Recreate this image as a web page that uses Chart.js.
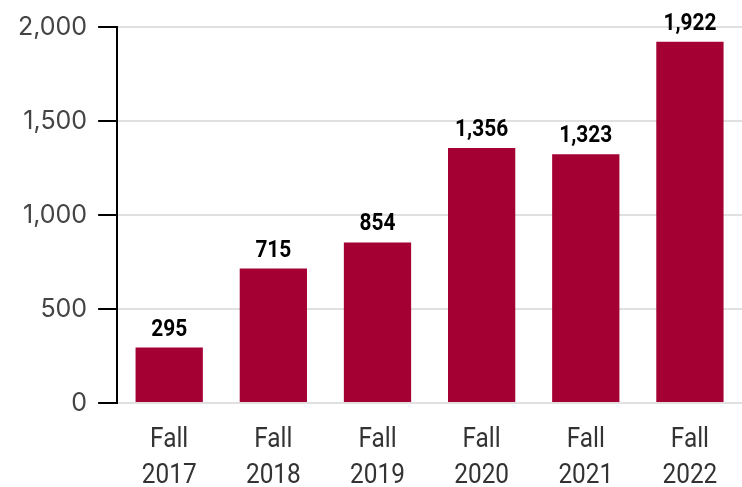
<!DOCTYPE html>
<html><head><meta charset="utf-8">
<script src="https://cdn.jsdelivr.net/npm/chart.js@4/dist/chart.umd.min.js"></script>
<style>html,body{margin:0;padding:0;background:#fff}#w{width:742px;height:487px}</style>
</head><body><div id="w"><canvas id="c"></canvas></div>
<script>
const categories = [["Fall","2017"],["Fall","2018"],["Fall","2019"],["Fall","2020"],["Fall","2021"],["Fall","2022"]];
const enrollment = [295, 715, 854, 1356, 1323, 1922];
const yTicks = [0, 500, 1000, 1500, 2000];

function condensedText(ctx, text, x, y, sx) {
  ctx.save();
  ctx.translate(x, y);
  ctx.scale(sx, 1);
  ctx.fillText(text, 0, 0);
  ctx.restore();
}

const labelPlugin = {
  id: 'vals',
  afterDatasetsDraw(chart) {
    const ctx = chart.ctx;
    const meta = chart.getDatasetMeta(0);
    const xs = chart.scales.x;
    ctx.save();
    ctx.textAlign = 'center';
    ctx.textBaseline = 'alphabetic';
    ctx.fillStyle = '#000';
    ctx.font = 'bold 24px Roboto, sans-serif';
    meta.data.forEach((bar, i) => {
      condensedText(ctx, enrollment[i].toLocaleString('en-US'), bar.x, bar.y - 12, 0.87);
    });
    ctx.fillStyle = '#333';
    ctx.font = '28px Roboto, sans-serif';
    const base = chart.scales.y.getPixelForValue(0);
    categories.forEach((lines, i) => {
      const x = xs.getPixelForValue(i);
      lines.forEach((t, j) => condensedText(ctx, t, x, base + 44 + j * 36, 0.87));
    });
    ctx.restore();
  }
};

new Chart(document.getElementById('c'), {
  type: 'bar',
  data: { labels: categories, datasets: [{ data: enrollment, backgroundColor: '#A50034', barPercentage: 0.646, categoryPercentage: 1 }] },
  options: {
    responsive: true, maintainAspectRatio: false, animation: false,
    layout: { padding: { top: 27, right: -7, left: 7, bottom: 76 } },
    plugins: { legend: { display: false }, tooltip: { enabled: false } },
    scales: {
      x: {
        grid: { display: false }, border: { display: false },
        ticks: { display: false }
      },
      y: {
        min: 0, max: 2000,
        afterBuildTicks: (s) => { s.ticks = yTicks.map(v => ({ value: v })); },
        grid: { color: '#e0e0e0', lineWidth: 2, tickColor: '#000', tickLength: 19 },
        border: { color: '#000', width: 2 },
        ticks: { color: '#444', font: { family: 'Inter', size: 25 }, padding: 11,
          callback: (v) => Number(v).toLocaleString('en-US') }
      }
    }
  },
  plugins: [labelPlugin]
});
</script></body></html>
